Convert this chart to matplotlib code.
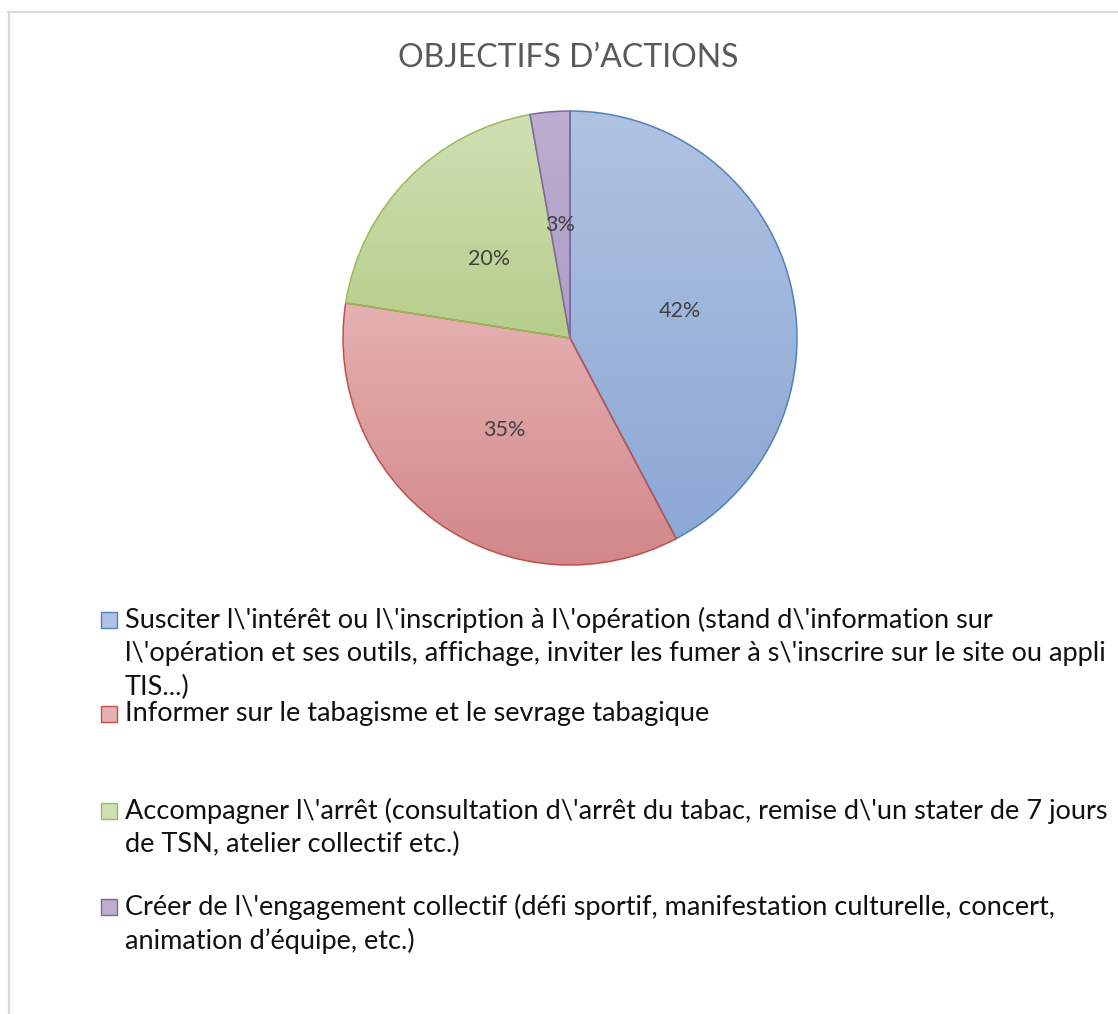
import numpy as np
import matplotlib.pyplot as plt
from matplotlib.patches import Rectangle
from matplotlib.lines import Line2D
from matplotlib.colors import LinearSegmentedColormap

# data
title = "OBJECTIFS D\u2019ACTIONS"
labels = [
    "Susciter l\\'intérêt ou l\\'inscription à l\\'opération (stand d\\'information sur\n"
    "l\\'opération et ses outils, affichage, inviter les fumer à s\\'inscrire sur le site ou appli\n"
    "TIS...)",
    "Informer sur le tabagisme et le sevrage tabagique",
    "Accompagner l\\'arrêt (consultation d\\'arrêt du tabac, remise d\\'un stater de 7 jours\n"
    "de TSN, atelier collectif etc.)",
    "Créer de l\\'engagement collectif (défi sportif, manifestation culturelle, concert,\n"
    "animation d\u2019équipe, etc.)",
]
counts = [30, 25, 14, 2]   # shown as 42%, 35%, 20%, 3%

edge_colors = ["#4F81BD", "#C0504D", "#9BBB59", "#8064A2"]
top_colors = ["#AFC2E1", "#E5B1B1", "#D0DFB4", "#BDADD0"]
bot_colors = ["#8CA8D6", "#D2878A", "#B6CE8A", "#AE9DC6"]

W, H = 1118, 1014
FONT = "Lato"

fig = plt.figure(figsize=(W / 100, H / 100), dpi=100)
fig.patch.set_facecolor("white")

# chart frame (clipped at right / bottom like the source)
fig.add_artist(Line2D([9 / W, 9 / W], [0, 1 - 12 / H], color="#D9D9D9", lw=1.6))
fig.add_artist(Line2D([8 / W, 1], [1 - 12 / H, 1 - 12 / H], color="#D9D9D9", lw=1.6))

# pie axes
cx, cy, r = 570, 338, 227 * 1.01
ax = fig.add_axes([(cx - r) / W, (H - cy - r) / H, 2 * r / W, 2 * r / H])
ax.set_aspect("equal")
ax.axis("off")

wedges, texts, autotexts = ax.pie(
    counts, radius=1, startangle=90, counterclock=False,
    autopct="%1.0f%%", pctdistance=0.5,
    wedgeprops=dict(linewidth=1.1),
    textprops=dict(color="#404040", fontsize=15.5, family=FONT),
)

for w, ec, tc, bc in zip(wedges, edge_colors, top_colors, bot_colors):
    w.set_facecolor("none")
    w.set_edgecolor(ec)
    w.set_zorder(3)
    verts = w.get_path().vertices
    x0, x1 = verts[:, 0].min(), verts[:, 0].max()
    y0, y1 = verts[:, 1].min(), verts[:, 1].max()
    cmap = LinearSegmentedColormap.from_list("g", [bc, tc])
    grad = np.linspace(0, 1, 256).reshape(-1, 1)
    im = ax.imshow(grad, cmap=cmap, origin="lower", extent=[x0, x1, y0, y1],
                   aspect="auto", zorder=2, interpolation="bilinear")
    im.set_clip_path(w)

for t in autotexts:
    t.set_zorder(4)

ax.set_xlim(-1.01, 1.01)
ax.set_ylim(-1.01, 1.01)

fig.text(568 / W, 1 - 58 / H, title, ha="center", va="center",
         color="#595959", fontsize=23, family=FONT)

# legend: one fixed slot per entry, first entry spills over like in the source
line_h = 33.5
slot_h = 96.5
legend_top = 620
for k, (lab, ec, tc) in enumerate(zip(labels, edge_colors, top_colors)):
    y = legend_top + (k * slot_h if k == 0 else 94 + (k - 1) * slot_h)
    sq = Rectangle((101 / W, 1 - (y + 8) / H), 16 / W, 16 / H,
                   transform=fig.transFigure, facecolor=tc, edgecolor=ec, lw=1.0)
    fig.add_artist(sq)
    for i, line in enumerate(lab.split("\n")):
        fig.text(125 / W, 1 - (y + i * line_h) / H, line, ha="left", va="center",
                 color="#111111", fontsize=19.5, family=FONT)

fig.savefig("out.png", dpi=100, facecolor="white")
